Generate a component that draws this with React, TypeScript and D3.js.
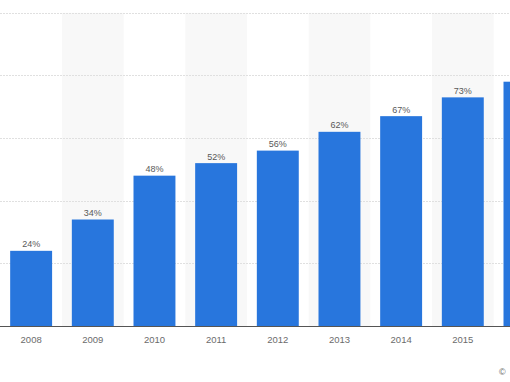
import React from "react";
import * as d3 from "d3";

const years = ["2008", "2009", "2010", "2011", "2012", "2013", "2014", "2015", "2016"];
const values = [24, 34, 48, 52, 56, 62, 67, 73, 78];
const gridTicks = [0, 20, 40, 60, 80, 100];

const W = 510;
const H = 382;

export default function App() {
  const band = d3.scaleBand<string>().domain(years).range([0.3, 555.3]).padding(0);
  const bar = d3.scaleBand<string>().domain(years).range([0.3, 555.3]).paddingInner(0.32).paddingOuter(0.16);
  const y = d3.scaleLinear().domain([0, 100]).range([326, 12.8]);
  const visible = (yr: string) => (band(yr) as number) + band.bandwidth() / 2 + 12 < W;

  return (
    <svg
      width={W}
      height={H}
      style={{ position: "fixed", left: 0, top: 0, background: "#fff" }}
      fontFamily="'Liberation Sans', Arial, sans-serif"
    >
      {years.map((yr, i) =>
        i % 2 === 1 ? (
          <rect key={"bg" + yr} x={band(yr)} y={y(100)} width={band.bandwidth()} height={y(0) - y(100)} fill="#f8f8f8" />
        ) : null
      )}
      {gridTicks.slice(1).map((t) => (
        <line
          key={"g" + t}
          x1={0}
          x2={W}
          y1={Math.round(y(t)) + 0.5}
          y2={Math.round(y(t)) + 0.5}
          stroke="#e0e0e0"
          strokeDasharray="2,1"
          strokeWidth={1}
        />
      ))}
      {years.map((yr, i) => (
        <g key={"b" + yr}>
          <rect x={bar(yr)} y={y(values[i])} width={bar.bandwidth()} height={y(0) - y(values[i])} fill="#2876dd" />
          {visible(yr) ? (
            <>
              <text
                x={(bar(yr) as number) + bar.bandwidth() / 2}
                y={y(values[i]) - 3.5}
                textAnchor="middle"
                fontSize={9}
                fill="#595959"
              >
                {values[i] + "%"}
              </text>
              <text
                x={(band(yr) as number) + band.bandwidth() / 2}
                y={343}
                textAnchor="middle"
                fontSize={9.5}
                fill="#6b6b6b"
              >
                {yr}
              </text>
            </>
          ) : null}
        </g>
      ))}
      <line x1={0} x2={W} y1={326.5} y2={326.5} stroke="#555" strokeWidth={1} />
      <text x={499} y={375} fontSize={9} fill="#666">©</text>
    </svg>
  );
}
